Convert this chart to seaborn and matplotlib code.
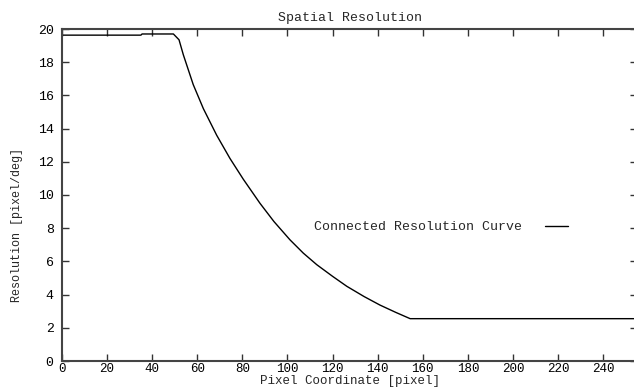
import matplotlib
matplotlib.use("Agg")
import matplotlib.pyplot as plt
import seaborn as sns
import pandas as pd

# Data
pixel_x = [0, 35, 35.5, 49.4, 51.9, 53.8, 58.2, 62.7, 68.6, 74.5, 80.4, 87.8,
           94, 101.1, 107, 113, 120, 126.3, 134, 141, 148, 154.4, 255]
resolution = [19.63, 19.63, 19.7, 19.7, 19.35, 18.45, 16.65, 15.2, 13.6, 12.2,
              10.95, 9.5, 8.4, 7.3, 6.5, 5.8, 5.1, 4.5, 3.88, 3.37, 2.93,
              2.55, 2.55]
series_name = "Connected Resolution Curve"
x_ticks = list(range(0, 241, 20))
y_ticks = list(range(0, 21, 2))

df = pd.DataFrame({"x": pixel_x, "y": resolution, "s": series_name})

sns.set_style("ticks")
plt.rcParams["font.family"] = ["Liberation Mono", "DejaVu Sans Mono"]

fig = plt.figure(figsize=(6.34, 3.87), dpi=100)
ax = fig.add_axes([62 / 634, 1 - 361 / 387, (637 - 62) / 634, (361 - 29) / 387])

sns.lineplot(data=df, x="x", y="y", hue="s", palette=["black"], ax=ax,
             linewidth=1.0, sort=False, estimator=None)

ax.set_xlim(0, 255)
ax.set_ylim(0, 20)
ax.set_xticks(x_ticks)
ax.set_yticks(y_ticks)
fs = 9.5
ax.tick_params(axis="both", which="both", direction="in", length=5, width=1,
               color="#333333", labelsize=fs, top=True, right=True,
               labelcolor="black")
ax.tick_params(axis="y", pad=6)
ax.tick_params(axis="x", pad=1.5, labelsize=9)
for side in ["left", "bottom", "top"]:
    ax.spines[side].set_color("#444444")
    ax.spines[side].set_linewidth(1.5)
ax.spines["right"].set_visible(False)

ax.set_title("Spatial Resolution", fontsize=fs, pad=6)
ax.set_xlabel("Pixel Coordinate [pixel]", fontsize=9, labelpad=0)
ax.set_ylabel("Resolution [pixel/deg]", fontsize=8.5)
ax.yaxis.set_label_coords(-0.068, 0.41)

leg = ax.legend(loc="center right", bbox_to_anchor=(0.88, 0.4035),
                frameon=False, markerfirst=False, fontsize=fs,
                handlelength=1.75, handletextpad=1.75, borderpad=0,
                borderaxespad=0)

fig.savefig("out.png", dpi=100)
